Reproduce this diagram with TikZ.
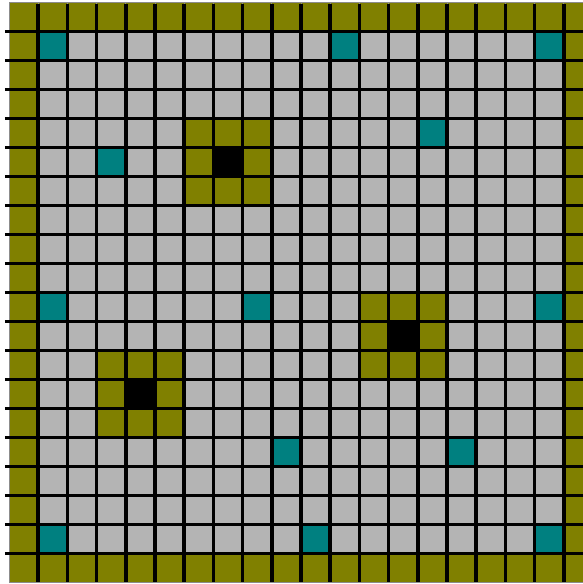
\documentclass[tikz,border=0pt]{standalone}
\usepackage{xcolor}
\usetikzlibrary{math}
\definecolor{myolive}{RGB}{128,128,0}
\definecolor{myteal}{RGB}{0,128,128}
\definecolor{mygray}{RGB}{180,180,180}

\begin{document}
\begin{tikzpicture}[x=14.6pt, y=-14.5pt,
  cell/.style={draw=black!45, line width=0.4pt},
  free/.style={cell, fill=mygray},
  wall/.style={cell, fill=myolive},
  goal/.style={cell, fill=myteal},
  hole/.style={cell, fill=black},
  gridline/.style={line width=1.75pt}]
\tikzmath{
\N=20;
\M=\N-1;
}
\useasboundingbox (-0.308,-0.086) rectangle ++(19.966,20.138);

% floor
\foreach \c in {0,...,\M}
  \foreach \r in {0,...,\M}
    \draw[free] (\c,\r) rectangle +(1,1);

% outer wall
\foreach \k in {0,...,\M}{
  \draw[wall] (\k,0) rectangle +(1,1);
  \draw[wall] (\k,\M) rectangle +(1,1);
  \draw[wall] (0,\k) rectangle +(1,1);
  \draw[wall] (\M,\k) rectangle +(1,1);
}

% holes with a ring of wall round them
\foreach \hx/\hy in {7/5, 13/11, 4/13}{
  \foreach \dx in {-1,0,1}
    \foreach \dy in {-1,0,1}
      \draw[wall] (\hx+\dx,\hy+\dy) rectangle +(1,1);
  \draw[hole] (\hx,\hy) rectangle +(1,1);
}

% goals
\foreach \gx/\gy in {1/1, 11/1, 18/1, 14/4, 3/5, 1/10, 8/10, 18/10,
                     9/15, 15/15, 1/18, 10/18, 18/18}
  \draw[goal] (\gx,\gy) rectangle +(1,1);

% grid lines
\foreach \k in {1,...,\M}{
  \draw[gridline] (\k,0.05) -- (\k,\N);
  \draw[gridline] (-0.14,\k) -- (\N,\k);
}
\end{tikzpicture}
\end{document}
